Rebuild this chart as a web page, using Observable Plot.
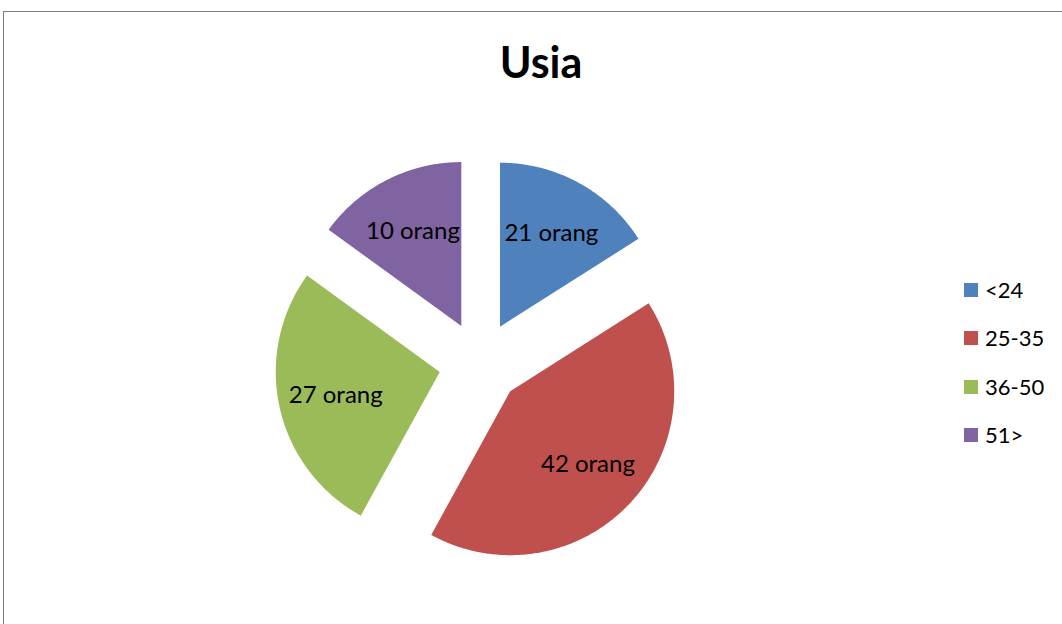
<!DOCTYPE html>
<html>
<head>
<meta charset="utf-8">
<script src="https://cdn.jsdelivr.net/npm/d3@7"></script>
<script src="https://cdn.jsdelivr.net/npm/@observablehq/plot@0.6"></script>
<style>
  html, body { margin: 0; padding: 0; background: #fff; overflow: hidden; }
  #wrap { position: relative; width: 1062px; height: 624px; overflow: hidden; font-family: Lato, "DejaVu Sans", sans-serif; }
  #frame { position: absolute; left: 3px; top: 11px; width: 1200px; height: 800px; border: 1.5px solid #7c7c7c; box-sizing: border-box; }
  #chart { position: absolute; left: 0; top: 0; }
  #title { position: absolute; left: 0; width: 1082px; top: 40px; text-align: center; font-weight: bold; font-size: 43px; line-height: 1; color: #000; }
  #legend { position: absolute; left: 964px; top: 266px; }
  .row { display: flex; align-items: center; height: 48.3px; }
  .sw { width: 14px; height: 14px; margin-right: 7px; }
  .lb { font-size: 22px; line-height: 1; color: #000; }
</style>
</head>
<body>
<div id="wrap">
  <div id="frame"></div>
  <div id="chart"></div>
  <div id="title"></div>
  <div id="legend"></div>
</div>
<script>
// ---- data ----
const title = "Usia";
const categories = ["<24", "25-35", "36-50", "51>"];
const sliceShares = [16, 42, 27, 15];          // share of the pie
const labels = ["21 orang", "42 orang", "27 orang", "10 orang"];
const colors = ["#4F81BD", "#C0504D", "#9BBB59", "#8064A2"];

// ---- layout ----
const W = 1062, H = 624;
const cx = 479.6, cy = 362.4, R = 164;   // pie centre and radius (px)
const explode = 0.252;                   // explosion offset, fraction of radius
const labelPos = 0.65;                   // label distance, fraction of radius

const rows = categories.map((c, i) => ({cat: c, value: sliceShares[i], label: labels[i]}));
const arcs = d3.pie().sort(null).value(d => d.value)(rows);

const polyPts = [];
const labelPts = [];
arcs.forEach(a => {
  const m = (a.startAngle + a.endAngle) / 2;
  const ox = explode * Math.sin(m), oy = explode * Math.cos(m);
  polyPts.push({cat: a.data.cat, x: ox, y: oy});
  const n = Math.max(2, Math.ceil((a.endAngle - a.startAngle) / (Math.PI / 360)));
  for (let k = 0; k <= n; k++) {
    const t = a.startAngle + (a.endAngle - a.startAngle) * k / n;
    polyPts.push({cat: a.data.cat, x: ox + Math.sin(t), y: oy + Math.cos(t)});
  }
  labelPts.push({label: a.data.label, x: ox + labelPos * Math.sin(m), y: oy + labelPos * Math.cos(m)});
});

const plot = Plot.plot({
  width: W,
  height: H,
  margin: 0,
  style: {fontFamily: "Lato, 'DejaVu Sans', sans-serif", background: "transparent"},
  x: {domain: [-1, 1], range: [cx - R, cx + R], axis: null},
  y: {domain: [-1, 1], range: [cy + R, cy - R], axis: null},
  color: {domain: categories, range: colors},
  marks: [
    Plot.line(polyPts, {x: "x", y: "y", z: "cat", fill: "cat", stroke: "none", curve: "linear"}),
    Plot.text(labelPts, {x: "x", y: "y", text: "label", fontSize: 24, fill: "#000"})
  ]
});
document.getElementById("chart").appendChild(plot);

document.getElementById("title").textContent = title;
const legend = document.getElementById("legend");
categories.forEach((c, i) => {
  const row = document.createElement("div");
  row.className = "row";
  const sw = document.createElement("div");
  sw.className = "sw";
  sw.style.background = colors[i];
  const lb = document.createElement("div");
  lb.className = "lb";
  lb.textContent = c;
  row.appendChild(sw);
  row.appendChild(lb);
  legend.appendChild(row);
});
</script>
</body>
</html>
